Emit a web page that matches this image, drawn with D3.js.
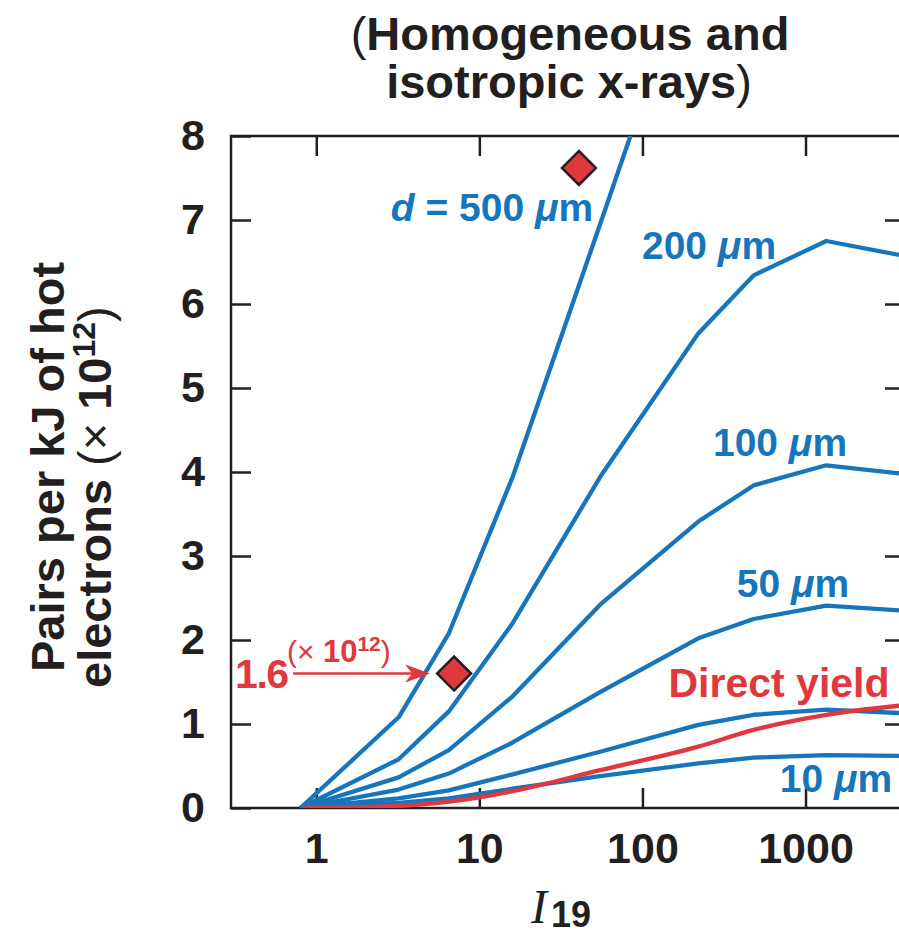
<!DOCTYPE html>
<html>
<head>
<meta charset="utf-8">
<script src="https://cdn.jsdelivr.net/npm/d3@7"></script>
<style>
  html, body { margin: 0; padding: 0; background: #fff; }
  svg { display: block; font-family: "Liberation Sans", Arial, Helvetica, sans-serif; }
</style>
</head>
<body>
<svg id="chart" width="899" height="936"></svg>
<script>
// Laser intensity I19 at which the pair yield was computed
const intensity = [0.8, 3.2, 6.5, 16, 55, 220, 480, 1340, 3850];
// Pairs per kJ of hot electrons (x 10^12) for each target thickness d
const pairs10  = [0, 0.06, 0.115, 0.23, 0.38, 0.53, 0.60, 0.63, 0.62];
const pairs20  = [0, 0.115, 0.21, 0.40, 0.67, 0.99, 1.11, 1.17, 1.13];
const pairs50  = [0, 0.22, 0.41, 0.78, 1.38, 2.02, 2.25, 2.41, 2.35];
const pairs100 = [0, 0.365, 0.69, 1.33, 2.42, 3.41, 3.84, 4.08, 3.98];
const pairs200 = [0, 0.58, 1.15, 2.20, 3.94, 5.65, 6.34, 6.75, 6.58];
const pairs500 = [0, 1.08, 2.08, 3.94, 6.95, 10.35];
// Direct (Trident) yield
const directIntensity = [0.85, 3.2, 6.5, 16, 55, 220, 480, 1340, 3850];
const directYield = [0, 0.024, 0.075, 0.20, 0.45, 0.73, 0.93, 1.11, 1.22];
// Measured points
const measuredI = [7.0, 40.8];
const measuredPairs = [1.6, 7.62];
// Axis ticks
const xTicks = [1, 10, 100, 1000];
const yTicks = [0, 1, 2, 3, 4, 5, 6, 7, 8];

const BLUE = "#1775bb";
const RED = "#e0383e";
const INK = "#231f20";

const svg = d3.select("#chart");

const x = d3.scaleLog().domain([0.3, 3850]).range([231, 901]);
const y = d3.scaleLinear().domain([0, 8]).range([808, 136]);
const [x0, x1] = x.range();
const [y0, y1] = y.range();

svg.append("defs").append("clipPath").attr("id", "plotClip")
  .append("rect")
  .attr("x", x0).attr("y", y1)
  .attr("width", x1 - x0).attr("height", y0 - y1);

// ---- axes ----
function styleAxis(g) {
  g.attr("font-family", null).attr("font-size", null);
  g.select(".domain").remove();
  g.selectAll(".tick line").attr("stroke", INK).attr("stroke-width", 2.5);
  g.selectAll(".tick text")
    .attr("fill", INK)
    .attr("font-size", 43)
    .attr("font-weight", "bold");
}

svg.append("g")
  .attr("transform", `translate(0,${y0})`)
  .call(d3.axisBottom(x).tickValues(xTicks).tickFormat(d3.format("d"))
    .tickSizeInner(-20).tickSizeOuter(0).tickPadding(24))
  .call(styleAxis);

svg.append("g")
  .attr("transform", `translate(0,${y1})`)
  .call(d3.axisTop(x).tickValues(xTicks).tickFormat("")
    .tickSizeInner(-20).tickSizeOuter(0))
  .call(styleAxis);

svg.append("g")
  .attr("transform", `translate(${x0},0)`)
  .call(d3.axisLeft(y).tickValues(yTicks).tickFormat(d3.format("d"))
    .tickSizeInner(-20).tickSizeOuter(0).tickPadding(26))
  .call(styleAxis);

svg.append("g")
  .attr("transform", `translate(${x1},0)`)
  .call(d3.axisRight(y).tickValues(yTicks.slice(1, -1)).tickFormat("")
    .tickSizeInner(-16).tickSizeOuter(0))
  .call(styleAxis);

svg.append("rect")
  .attr("x", x0).attr("y", y1)
  .attr("width", x1 - x0).attr("height", y0 - y1)
  .attr("fill", "none").attr("stroke", INK).attr("stroke-width", 2.5);

// ---- curves ----
const plot = svg.append("g").attr("clip-path", "url(#plotClip)");

const thicknessLine = d3.line()
  .x((d, i) => x(intensity[i]))
  .y(d => y(d));

[pairs10, pairs20, pairs50, pairs100, pairs200, pairs500].forEach(series => {
  plot.append("path")
    .datum(series)
    .attr("d", thicknessLine)
    .attr("fill", "none")
    .attr("stroke", BLUE)
    .attr("stroke-width", 4.3)
    .attr("stroke-linejoin", "round");
});

const directLine = d3.line()
  .x((d, i) => x(directIntensity[i]))
  .y(d => y(d))
  .curve(d3.curveMonotoneX);

plot.append("path")
  .datum(directYield)
  .attr("d", directLine)
  .attr("fill", "none")
  .attr("stroke", RED)
  .attr("stroke-width", 4.3)
  .attr("stroke-linecap", "round");

// ---- measured points ----
svg.selectAll("path.measured")
  .data(measuredI)
  .join("path")
  .attr("class", "measured")
  .attr("d", d3.symbol(d3.symbolSquare, 24 * 24))
  .attr("transform", (d, i) => `translate(${x(d)},${y(measuredPairs[i])}) rotate(45)`)
  .attr("fill", RED)
  .attr("stroke", INK)
  .attr("stroke-width", 2.5);

// ---- curve labels ----
function curveLabel(cx, by, parts, color, size) {
  const t = svg.append("text")
    .attr("x", cx).attr("y", by)
    .attr("text-anchor", "middle")
    .attr("font-size", size)
    .attr("font-weight", "bold")
    .attr("fill", color);
  parts.forEach(p => {
    t.append("tspan").attr("font-style", p.italic ? "italic" : "normal").text(p.t);
  });
}
curveLabel(492, 221, [{t: "d", italic: true}, {t: " = 500 "}, {t: "μ", italic: true}, {t: "m"}], BLUE, 39);
curveLabel(709, 259, [{t: "200 "}, {t: "μ", italic: true}, {t: "m"}], BLUE, 39);
curveLabel(780, 456, [{t: "100 "}, {t: "μ", italic: true}, {t: "m"}], BLUE, 39);
curveLabel(793, 597, [{t: "50 "}, {t: "μ", italic: true}, {t: "m"}], BLUE, 39);
curveLabel(836, 792, [{t: "10 "}, {t: "μ", italic: true}, {t: "m"}], BLUE, 39);
curveLabel(779, 697, [{t: "Direct yield"}], RED, 41);

// ---- annotation on the measured point ----
const ax = x(measuredI[0]);
const ay = y(measuredPairs[0]);
const tip = ax - 24;
svg.append("line")
  .attr("x1", ax - 161).attr("y1", ay)
  .attr("x2", tip - 16).attr("y2", ay)
  .attr("stroke", RED).attr("stroke-width", 2.5);
svg.append("path")
  .attr("d", `M${tip},${ay} L${tip - 25},${ay - 9} L${tip - 18},${ay} L${tip - 25},${ay + 9} Z`)
  .attr("fill", RED);
svg.append("text")
  .attr("x", ax - 219).attr("y", ay + 14)
  .attr("font-size", 41).attr("font-weight", "bold").attr("fill", RED)
  .attr("letter-spacing", -1.5)
  .text("1.6");
const sup = svg.append("text")
  .attr("x", ax - 167).attr("y", ay - 12)
  .attr("fill", RED).attr("font-size", 30);
sup.append("tspan").attr("font-weight", "normal").text("(× ");
sup.append("tspan").attr("font-weight", "bold").attr("font-size", 31).text("10");
sup.append("tspan").attr("font-weight", "bold").attr("font-size", 21).attr("dy", -11).text("12");
sup.append("tspan").attr("font-weight", "normal").attr("dy", 11).text(")");

// ---- title ----
const title = svg.append("text")
  .attr("text-anchor", "middle")
  .attr("font-size", 47)
  .attr("fill", INK);
const t1 = title.append("tspan").attr("x", 570).attr("y", 50);
t1.append("tspan").attr("font-weight", "normal").text("(");
t1.append("tspan").attr("font-weight", "bold").text("Homogeneous and");
const t2 = title.append("tspan").attr("x", 569).attr("y", 98);
t2.append("tspan").attr("font-weight", "bold").text("isotropic x-rays");
t2.append("tspan").attr("font-weight", "normal").text(")");

// ---- y-axis title ----
svg.append("text")
  .attr("transform", "translate(64,672) rotate(-90)")
  .attr("font-size", 47).attr("font-weight", "bold").attr("fill", INK)
  .text("Pairs per kJ of hot");
const yl2 = svg.append("text")
  .attr("transform", "translate(111,688) rotate(-90)")
  .attr("font-size", 47).attr("fill", INK);
yl2.append("tspan").attr("font-weight", "bold").text("electrons ");
yl2.append("tspan").attr("font-weight", "normal").text("(× ");
yl2.append("tspan").attr("font-weight", "bold").text("10");
yl2.append("tspan").attr("font-weight", "bold").attr("font-size", 32).attr("dy", -16).text("12");
yl2.append("tspan").attr("font-weight", "normal").attr("dy", 16).text(")");

// ---- x-axis title ----
const xt = svg.append("text").attr("x", 531).attr("y", 923).attr("fill", INK);
xt.append("tspan")
  .attr("font-family", "'Liberation Serif', 'Times New Roman', serif")
  .attr("font-style", "italic").attr("font-size", 48).text("I");
xt.append("tspan")
  .attr("font-weight", "bold").attr("font-size", 36).attr("dx", 4).attr("dy", 4).text("19");
</script>
</body>
</html>
